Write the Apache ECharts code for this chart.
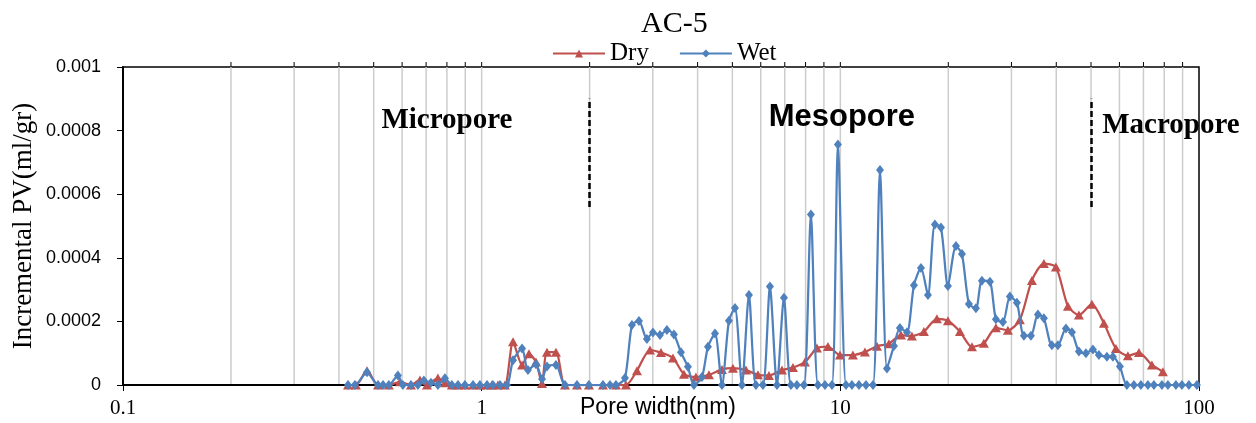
<!DOCTYPE html>
<html>
<head>
<meta charset="utf-8">
<script src="https://cdn.jsdelivr.net/npm/echarts@6/dist/echarts.min.js"></script>
<style>
  html, body { margin: 0; padding: 0; background: #fff; }
  #chart { width: 1256px; height: 423px; }
</style>
</head>
<body>
<div id="chart"></div>
<script>
// Incremental pore volume (ml/gr) against pore width (nm), sample AC-5
const dryPoints = [
  [0.424, 0], [0.446, 0], [0.479, 0.000045], [0.514, 0], [0.551, 0], [0.592, 0.000010],
  [0.635, 0], [0.673, 0.000016], [0.704, 0], [0.755, 0.000022], [0.790, 0.000007],
  [0.826, 0], [0.859, 0], [0.898, 0], [0.946, 0], [0.989, 0], [1.035, 0], [1.068, 0],
  [1.110, 0], [1.161, 0], [1.223, 0.000136], [1.296, 0.000063], [1.355, 0.000098],
  [1.417, 0.000072], [1.473, 0.000005], [1.521, 0.000103], [1.611, 0.000103],
  [1.707, 0], [1.844, 0], [1.991, 0], [2.179, 0], [2.368, 0], [2.525, 0],
  [2.710, 0.000045], [2.946, 0.000110], [3.162, 0.000102], [3.415, 0.000085],
  [3.664, 0.000034], [3.957, 0.000025], [4.302, 0.000032], [4.677, 0.000049],
  [5.019, 0.000053], [5.456, 0.000047], [5.893, 0.000032], [6.324, 0.000030],
  [6.874, 0.000047], [7.376, 0.000055], [7.968, 0.000072], [8.607, 0.000116],
  [9.235, 0.000121], [9.975, 0.000094], [10.84, 0.000094], [11.71, 0.000104],
  [12.65, 0.000122], [13.66, 0.000130], [14.76, 0.000157], [15.83, 0.000154],
  [17.10, 0.000168], [18.59, 0.000208], [19.95, 0.000202], [21.55, 0.000168],
  [23.28, 0.000120], [25.13, 0.000131], [27.15, 0.000180], [29.32, 0.000172],
  [31.67, 0.000205], [34.21, 0.000329], [36.94, 0.000382], [39.91, 0.000371],
  [43.11, 0.000248], [46.26, 0.000220], [50.28, 0.000254], [54.31, 0.000194],
  [58.66, 0.000115], [63.36, 0.000092], [68.00, 0.000102], [73.91, 0.000063],
  [79.32, 0.000042]
];

const wetPoints = [
  [0.424, 0], [0.443, 0], [0.479, 0.000040], [0.514, 0], [0.531, 0], [0.551, 0],
  [0.584, 0.000030], [0.603, 0], [0.635, 0], [0.664, 0], [0.690, 0.000014],
  [0.722, 0.000007], [0.755, 0], [0.790, 0.000021], [0.826, 0], [0.859, 0],
  [0.898, 0], [0.946, 0], [0.989, 0], [1.035, 0], [1.075, 0], [1.125, 0], [1.176, 0],
  [1.223, 0.000078], [1.296, 0.000115], [1.346, 0.000047], [1.417, 0.000065],
  [1.473, 0.000019], [1.521, 0.000058], [1.611, 0.000063], [1.707, 0], [1.844, 0],
  [1.991, 0], [2.179, 0], [2.279, 0], [2.368, 0], [2.509, 0.000022], [2.624, 0.000189],
  [2.745, 0.000201], [2.889, 0.000145], [3.003, 0.000165], [3.141, 0.000157],
  [3.285, 0.000173], [3.436, 0.000159], [3.594, 0.000103], [3.759, 0.000057],
  [3.907, 0], [4.113, 0.000025], [4.275, 0.000120], [4.472, 0.000162], [4.677, 0],
  [4.891, 0.000202], [5.084, 0.000242], [5.317, 0], [5.562, 0.000283], [5.817, 0],
  [6.084, 0], [6.364, 0.000310], [6.657, 0], [6.963, 0.000274], [7.283, 0],
  [7.568, 0], [7.915, 0], [8.279, 0.000536], [8.661, 0], [9.060, 0], [9.476, 0],
  [9.847, 0.000756], [10.37, 0], [10.77, 0], [11.27, 0], [11.79, 0], [12.33, 0],
  [12.90, 0.000676], [13.49, 0.000052], [14.11, 0.000123], [14.66, 0.000179],
  [15.34, 0.000166], [16.04, 0.000314], [16.78, 0.000368], [17.55, 0.000283],
  [18.35, 0.000505], [19.08, 0.000495], [19.95, 0.000311], [21.01, 0.000437],
  [21.83, 0.000412], [22.83, 0.000255], [23.88, 0.000241], [24.82, 0.000328],
  [26.13, 0.000325], [27.15, 0.000207], [28.40, 0.000198], [29.70, 0.000278],
  [31.07, 0.000259], [32.50, 0.000155], [33.99, 0.000155], [35.55, 0.000222],
  [36.94, 0.000210], [38.89, 0.000125], [40.42, 0.000125], [42.56, 0.000178],
  [44.23, 0.000166], [46.26, 0.000105], [48.39, 0.000100], [50.61, 0.000112],
  [52.59, 0.000094], [55.36, 0.000089], [57.54, 0.000089], [60.18, 0.000058],
  [62.95, 0], [65.84, 0], [68.87, 0], [72.03, 0], [74.86, 0], [78.81, 0],
  [81.90, 0], [86.22, 0], [89.61, 0], [93.72, 0], [98.65, 0]
];

// vertical grid lines of the log axis (every 1..9 step of each decade)
const gridWidths = [
  0.2, 0.3, 0.4, 0.5, 0.6, 0.7, 0.8, 0.9, 1,
  2, 3, 4, 5, 6, 7, 8, 9, 10,
  20, 30, 40, 50, 60, 70, 80, 90
];

// pore-class boundaries (nm) and the span of the dashed divider lines
const boundaries = [2, 50];
const dividerSpan = [0.00056, 0.0009];

// pore-class captions: [text, width nm, PV, font]
const captions = [
  ['Micropore', 0.80, 0.000832, 'Liberation Serif'],
  ['Mesopore', 10.1, 0.000840, 'Liberation Sans'],
  ['Macropore', 83.5, 0.000815, 'Liberation Serif']
];

const RED = '#C0504D';
const BLUE = '#4F81BD';

const chart = echarts.init(document.getElementById('chart'), null, { renderer: 'canvas' });

const option = {
  animation: false,
  backgroundColor: '#fff',
  title: {
    text: 'AC-5',
    left: 636,
    top: 4,
    textStyle: { fontFamily: 'Liberation Serif', fontSize: 30, fontWeight: 'normal', color: '#000' }
  },
  legend: {
    data: ['Dry', 'Wet'],
    left: 547,
    top: 36,
    itemWidth: 52,
    itemHeight: 10,
    itemGap: 30,
    textStyle: { fontFamily: 'Liberation Serif', fontSize: 25, color: '#000' }
  },
  grid: {
    left: 123, right: 57, top: 67, bottom: 38,
    outerBoundsMode: 'none',
    containLabel: false,
    show: true, borderColor: '#000', borderWidth: 1.5, backgroundColor: 'transparent'
  },
  xAxis: {
    type: 'log',
    logBase: 10,
    min: 0.1,
    max: 100,
    name: 'Pore width(nm)',
    nameLocation: 'middle',
    nameGap: 11,
    nameMoveOverlap: false,
    nameTextStyle: { fontFamily: 'Liberation Sans', fontSize: 23, color: '#000', padding: [0, 0, 0, -6] },
    axisLine: { onZero: false, lineStyle: { color: '#000', width: 2 } },
    axisTick: { show: true, length: 6, lineStyle: { color: '#000', width: 1 } },
    axisLabel: { fontFamily: 'Liberation Serif', fontSize: 21, color: '#000', margin: 13 },
    splitLine: { show: false },
    minorTick: { show: false },
    minorSplitLine: { show: false }
  },
  yAxis: {
    type: 'value',
    min: 0,
    max: 0.001,
    interval: 0.0002,
    name: 'Incremental PV(ml/gr)',
    nameLocation: 'middle',
    nameGap: 86,
    nameMoveOverlap: false,
    nameTextStyle: { fontFamily: 'Liberation Serif', fontSize: 27, color: '#000' },
    axisLine: { show: true, lineStyle: { color: '#000', width: 2 } },
    axisTick: { show: true, length: 6, lineStyle: { color: '#000', width: 1 } },
    axisLabel: { fontFamily: 'Liberation Sans', fontSize: 18, color: '#000', margin: 22 },
    splitLine: { show: false }
  },
  series: [
    {
      // grid lines plus the small ticks above the top frame
      type: 'custom',
      silent: true,
      z: 0,
      data: gridWidths.map(v => [v]),
      encode: { x: 0 },
      renderItem: function (params, api) {
        const v = api.value(0);
        const top = api.coord([v, 0.001]);
        const bot = api.coord([v, 0]);
        return {
          type: 'group',
          children: [
            { type: 'line', shape: { x1: top[0], y1: top[1], x2: bot[0], y2: bot[1] },
              style: { stroke: '#cccccc', lineWidth: 1.5 } },
            { type: 'line', shape: { x1: top[0], y1: top[1], x2: top[0], y2: top[1] - 5 },
              style: { stroke: '#000', lineWidth: 1 } }
          ]
        };
      }
    },
    {
      name: 'Dry',
      type: 'line',
      data: dryPoints,
      smooth: 0.25,
      color: RED,
      symbol: 'triangle',
      symbolSize: [10, 9],
      lineStyle: { color: RED, width: 2.25 },
      itemStyle: { color: RED },
      z: 3,
      markLine: {
        silent: true,
        symbol: ['none', 'none'],
        label: { show: false },
        lineStyle: { color: '#000', width: 2.5, type: [6, 3] },
        data: boundaries.map(b => [{ coord: [b, dividerSpan[0]] }, { coord: [b, dividerSpan[1]] }])
      },
      markPoint: {
        silent: true,
        symbol: 'circle',
        symbolSize: 0,
        data: captions.map(c => ({
          coord: [c[1], c[2]],
          label: {
            show: true,
            position: 'inside',
            formatter: c[0],
            fontFamily: c[3],
            fontWeight: 'bold',
            fontSize: c[3] === 'Liberation Sans' ? 31 : 29,
            color: '#000'
          }
        }))
      }
    },
    {
      name: 'Wet',
      type: 'line',
      data: wetPoints,
      smooth: 0.25,
      color: BLUE,
      symbol: 'diamond',
      symbolSize: [8, 10],
      lineStyle: { color: BLUE, width: 2.25 },
      itemStyle: { color: BLUE },
      z: 4
    }
  ]
};

chart.setOption(option);
</script>
</body>
</html>
